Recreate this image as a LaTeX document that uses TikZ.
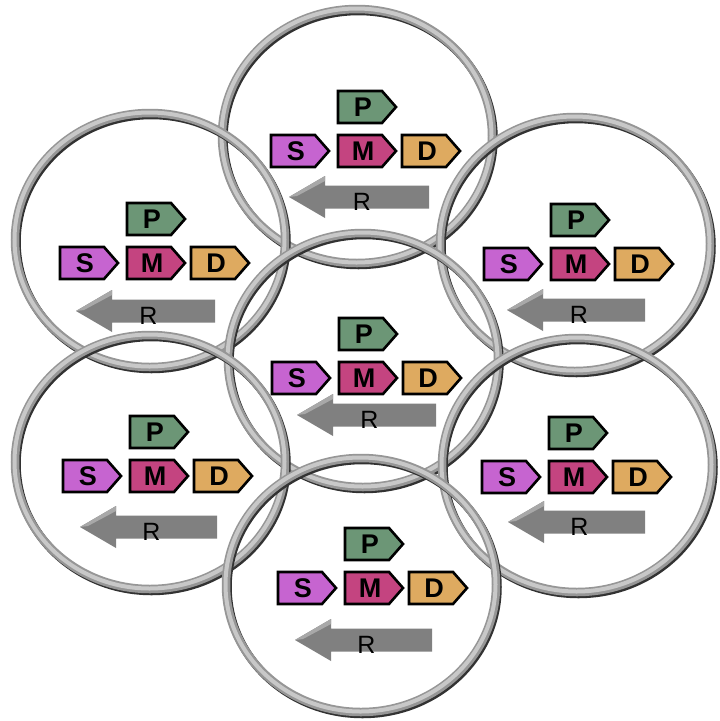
\documentclass[tikz,border=0pt]{standalone}
\usepackage{fontspec}
\setmainfont{Liberation Sans}
\definecolor{cP}{RGB}{108,150,118}
\definecolor{cS}{RGB}{198,100,208}
\definecolor{cM}{RGB}{196,68,128}
\definecolor{cD}{RGB}{222,170,96}
\definecolor{ringD}{RGB}{50,50,50}
\definecolor{ringM}{RGB}{150,150,150}
\definecolor{ringL}{RGB}{200,200,200}
\definecolor{arrG}{RGB}{128,128,128}
\definecolor{arrL}{RGB}{168,168,168}
\tikzset{
  ringdark/.style={draw=ringD, line width=8.5pt},
  ringmid/.style={draw=ringM, line width=8.5pt},
  ringlight/.style={draw=ringL, line width=4pt},
  pentbox/.style={draw=black, line width=2.6pt, line join=miter},
  letter/.style={inner sep=0pt, font=\fontsize{27}{27}\selectfont\bfseries},
  rletter/.style={inner sep=0pt, font=\fontsize{25}{25}\selectfont},
}
\newcommand\pent[5]{%
  \draw[pentbox, fill=#4] (#2,#3) -- ({#2+44},#3) -- ({#2+58},{#3+16}) -- ({#2+44},{#3+32}) -- (#2,{#3+32}) -- cycle;
  \node[letter] (#1) at ({#2+25},{#3+16.5}) {#5};
}
\newcommand\rarrow[4]{%
  \fill[arrG] (#2,#4) -- ({#2+36},{#4-21}) -- ({#2+36},{#4-11.5}) -- (#3,{#4-11.5}) -- (#3,{#4+11.5}) -- ({#2+36},{#4+11.5}) -- ({#2+36},{#4+21}) -- cycle;
  \fill[arrL] (#2,#4) -- ({#2+36},{#4-21}) -- ({#2+36},{#4-16}) -- ({#2+8},{#4-1}) -- cycle;
  \node[rletter] (#1) at ({(#2+#3)/2+3},{#4+5}) {R};
}
\newcommand\ringunit[8]{%
  \draw[ringdark] ({#2+1.5},{#3+2}) ellipse [x radius=135pt, y radius=127pt];
  \draw[ringmid] (#2,#3) ellipse [x radius=135pt, y radius=127pt];
  \draw[ringlight] ({#2-0.5},{#3-0.5}) ellipse [x radius=135pt, y radius=127pt];
  \coordinate (#1c) at (#2,#3);
  \pent{#1P}{#4}{#5-44}{cP}{P}
  \pent{#1S}{#4-67}{#5}{cS}{S}
  \pent{#1M}{#4}{#5}{cM}{M}
  \pent{#1D}{#4+64}{#5}{cD}{D}
  \rarrow{#1R}{#6}{#7}{#8}
}
\begin{document}
\begin{tikzpicture}[x=1pt,y=-1pt]
\useasboundingbox (0,0) rectangle (720,721);
\fill[white] (0,0) rectangle (720,721);
\ringunit{top}{357}{136}{338}{135}{289}{429}{197}
\ringunit{lt}{150}{240}{127}{247}{76}{215}{311}
\ringunit{rt}{575}{244}{551}{248}{507}{645}{310}
\ringunit{ctr}{363}{360}{339}{362}{297}{436}{415}
\ringunit{lb}{150}{462}{130}{460}{80}{217}{527}
\ringunit{rb}{577}{465}{549}{461}{508}{645}{522}
\ringunit{bot}{361}{585}{345}{572}{295}{432}{640}
\end{tikzpicture}
\end{document}
